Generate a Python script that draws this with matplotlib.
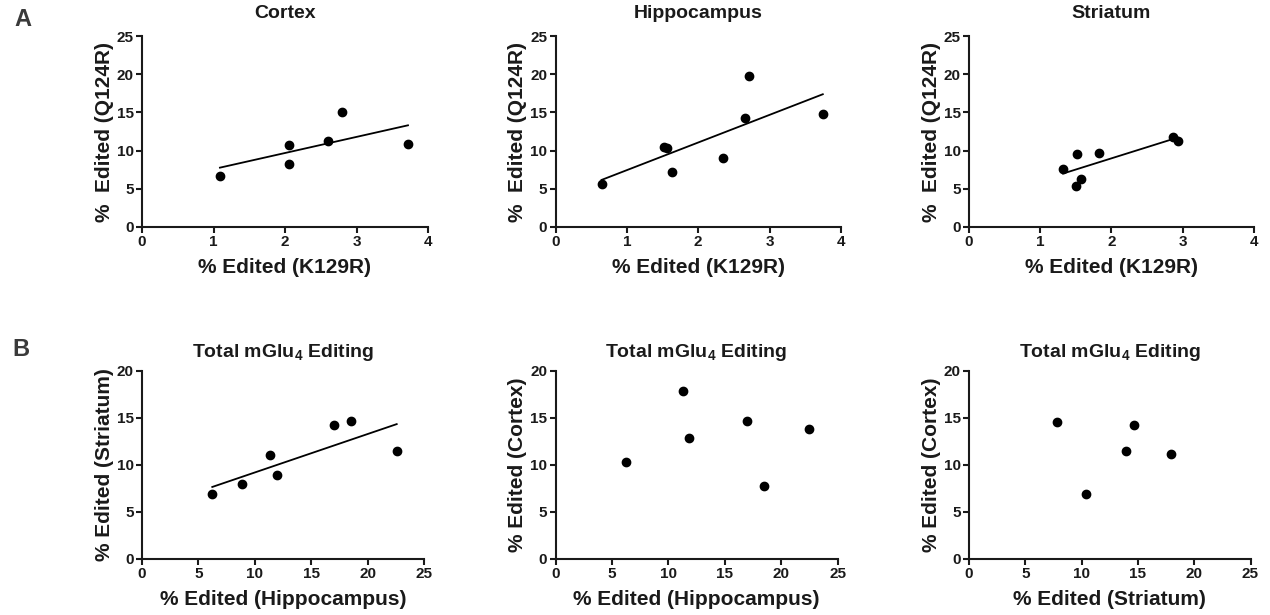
import numpy as np
import matplotlib
matplotlib.use("Agg")
from matplotlib import pyplot as plt

plt.rcParams['font.family'] = ['Liberation Sans', 'DejaVu Sans']
plt.rcParams['font.weight'] = 'bold'
plt.rcParams['mathtext.fontset'] = 'custom'
plt.rcParams['mathtext.rm'] = 'Liberation Sans:bold'
plt.rcParams['mathtext.bf'] = 'Liberation Sans:bold'
plt.rcParams['mathtext.it'] = 'Liberation Sans:bold'

# Riga A: % editing K129R vs Q124R per regione
cortex_k129r = [1.09, 2.05, 2.05, 2.60, 2.80, 3.72]
cortex_q124r = [6.66, 10.76, 8.28, 11.32, 15.07, 10.89]

hippo_k129r = [0.645, 1.52, 1.56, 1.635, 2.34, 2.655, 2.715, 3.745]
hippo_q124r = [5.62, 10.45, 10.30, 7.24, 8.99, 14.30, 19.80, 14.75]

striatum_k129r = [1.32, 1.50, 1.51, 1.57, 1.83, 2.86, 2.93]
striatum_q124r = [7.55, 5.37, 9.55, 6.28, 9.69, 11.76, 11.32]

# Riga B: editing totale mGlu4 tra regioni
b1_hippo = [6.23, 8.89, 11.35, 11.94, 17.0, 18.53, 22.58]
b1_striatum = [6.87, 7.93, 11.08, 8.92, 14.23, 14.63, 11.5]

b2_hippo = [6.25, 11.32, 11.82, 16.98, 18.48, 22.49]
b2_cortex = [10.33, 17.88, 12.85, 14.63, 7.75, 13.84]

b3_striatum = [7.78, 10.35, 13.9, 14.64, 17.9]
b3_cortex = [14.58, 6.9, 11.5, 14.2, 11.1]

W, H = 1270, 615
fig = plt.figure(figsize=(W / 100, H / 100), dpi=100)

def make_ax(left, right, top, bottom):
    return fig.add_axes([left / W, 1 - bottom / H, (right - left) / W, (bottom - top) / H])

def style(ax, xmax, xstep, ymax, ystep, title, xlabel, ylabel, tpad):
    ax.set_xlim(0, xmax)
    ax.set_ylim(0, ymax)
    ax.set_xticks(np.arange(0, xmax + 0.01, xstep))
    ax.set_yticks(np.arange(0, ymax + 0.01, ystep))
    for s in ['top', 'right']:
        ax.spines[s].set_visible(False)
    for s in ['left', 'bottom']:
        ax.spines[s].set_linewidth(1.5)
        ax.spines[s].set_color('#1a1a1a')
    ax.tick_params(width=1.5, length=4, labelsize=11, colors='#1a1a1a', pad=2)
    ax.set_title(title, fontsize=14, fontweight='bold', pad=tpad, color='#1a1a1a')
    ax.set_xlabel(xlabel, fontsize=15, fontweight='bold', labelpad=6, color='#1a1a1a')
    ax.set_ylabel(ylabel, fontsize=15, fontweight='bold', labelpad=2, color='#1a1a1a')
    ax.patch.set_visible(False)

def scatter(ax, x, y, fit):
    ax.scatter(x, y, s=36, color='black', zorder=3, clip_on=False)
    if fit:
        m, q = np.polyfit(x, y, 1)
        xx = np.array([min(x), max(x)])
        ax.plot(xx, m * xx + q, color='black', lw=1.3, zorder=2)

lefts = [142, 555.5, 969]
a_right = [428, 841, 1254]
b_right = [424, 837.5, 1250.5]

panels_a = [
    (cortex_k129r, cortex_q124r, 'Cortex'),
    (hippo_k129r, hippo_q124r, 'Hippocampus'),
    (striatum_k129r, striatum_q124r, 'Striatum'),
]
for i, (x, y, t) in enumerate(panels_a):
    ax = make_ax(lefts[i], a_right[i], 36, 227)
    scatter(ax, x, y, True)
    style(ax, 4, 1, 25, 5, t, '% Edited (K129R)', '%  Edited (Q124R)', 13)

title_b = r'Total mGlu$_4$ Editing'
panels_b = [
    (b1_hippo, b1_striatum, '% Edited (Hippocampus)', '% Edited (Striatum)', True),
    (b2_hippo, b2_cortex, '% Edited (Hippocampus)', '% Edited (Cortex)', False),
    (b3_striatum, b3_cortex, '% Edited (Striatum)', '% Edited (Cortex)', False),
]
for i, (x, y, xl, yl, fit) in enumerate(panels_b):
    ax = make_ax(lefts[i], b_right[i], 370.7, 559)
    scatter(ax, x, y, fit)
    style(ax, 25, 5, 20, 5, title_b, xl, yl, 10)

fig.text(14 / W, 1 - 19 / H, 'A', fontsize=17, fontweight='bold', color='#3a3a3a', va='center')
fig.text(12 / W, 1 - 349 / H, 'B', fontsize=17, fontweight='bold', color='#3a3a3a', va='center')

fig.savefig('out.png', dpi=100)
